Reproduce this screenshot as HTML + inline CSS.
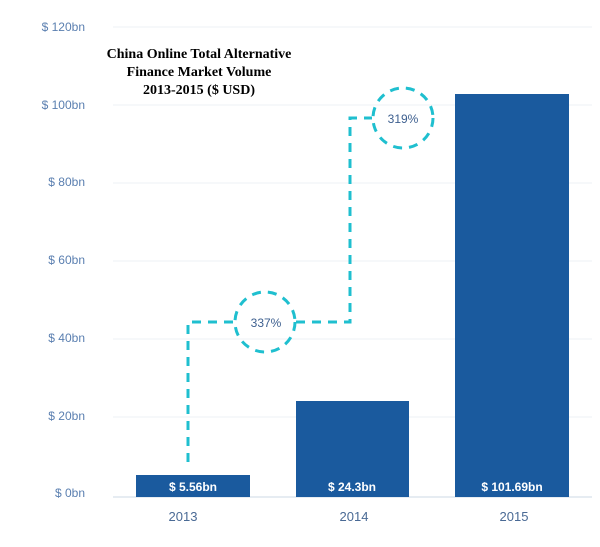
<!DOCTYPE html>
<html><head><style>
body{margin:0;background:#fff;}
</style></head><body>
<svg width="600" height="547" xmlns="http://www.w3.org/2000/svg" style="display:block">
<g stroke="#eef1f4" stroke-width="1">
<line x1="113" y1="27" x2="592" y2="27"/>
<line x1="113" y1="105" x2="592" y2="105"/>
<line x1="113" y1="183" x2="592" y2="183"/>
<line x1="113" y1="261" x2="592" y2="261"/>
<line x1="113" y1="339" x2="592" y2="339"/>
<line x1="113" y1="417" x2="592" y2="417"/>
</g>
<line x1="113" y1="497" x2="592" y2="497" stroke="#dde6ee" stroke-width="1.5"/>
<g font-family="Liberation Sans, sans-serif" font-size="12" fill="#5a7fb0" text-anchor="end">
<text x="85" y="31">$ 120bn</text>
<text x="85" y="109">$ 100bn</text>
<text x="85" y="186">$ 80bn</text>
<text x="85" y="264">$ 60bn</text>
<text x="85" y="342">$ 40bn</text>
<text x="85" y="420">$ 20bn</text>
<text x="85" y="497">$ 0bn</text>
</g>
<g fill="#1a5a9e">
<rect x="136" y="475" width="114" height="22"/>
<rect x="296" y="401" width="113" height="96"/>
<rect x="455" y="94" width="114" height="403"/>
</g>
<g font-family="Liberation Sans, sans-serif" font-size="12" font-weight="bold" fill="#fff" text-anchor="middle">
<text x="193" y="491">$ 5.56bn</text>
<text x="352" y="491">$ 24.3bn</text>
<text x="512" y="491">$ 101.69bn</text>
</g>
<g font-family="Liberation Sans, sans-serif" font-size="13" fill="#4a6a95" text-anchor="middle">
<text x="183" y="521">2013</text>
<text x="354" y="521">2014</text>
<text x="514" y="521">2015</text>
</g>
<g fill="none" stroke="#1fbfcf" stroke-width="3" stroke-dasharray="9,7">
<polyline points="188,462 188,322 234,322"/>
<polyline points="296,322 350,322 350,118 372,118"/>
<circle cx="265" cy="322" r="30"/>
<circle cx="403" cy="118" r="30"/>
</g>
<g font-family="Liberation Sans, sans-serif" font-size="12" fill="#3d5f8f" text-anchor="middle">
<text x="266" y="327">337%</text>
<text x="403" y="123">319%</text>
</g>
<g font-family="Liberation Serif, serif" font-size="14" font-weight="bold" fill="#000" text-anchor="middle">
<text x="199" y="58">China Online Total Alternative</text>
<text x="199" y="76">Finance Market Volume</text>
<text x="199" y="94">2013-2015 ($ USD)</text>
</g>
</svg>
</body></html>
